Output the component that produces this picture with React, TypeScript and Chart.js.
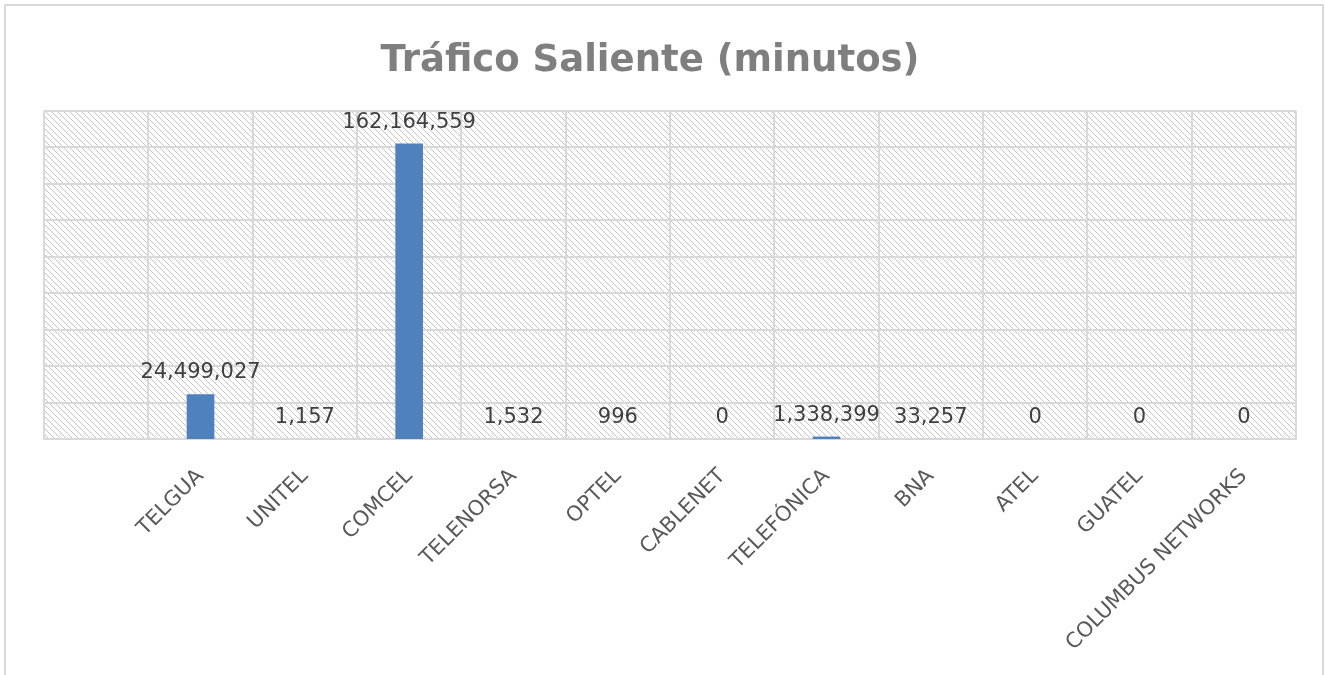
import React, { useEffect, useRef } from "react";
import { Chart, registerables } from "chart.js";

Chart.register(...registerables);

const TITLE = "Tráfico Saliente (minutos)";
const categories: string[] = [
  "",
  "TELGUA",
  "UNITEL",
  "COMCEL",
  "TELENORSA",
  "OPTEL",
  "CABLENET",
  "TELEFÓNICA",
  "BNA",
  "ATEL",
  "GUATEL",
  "COLUMBUS NETWORKS",
];
const traffic: (number | null)[] = [
  null,
  24499027,
  1157,
  162164559,
  1532,
  996,
  0,
  1338399,
  33257,
  0,
  0,
  0,
];
const yMin = 0;
const yMax = 180000000;
const yStep = 20000000;

const FONT = "'DejaVu Sans', sans-serif";
const GRID = "#d9d9d9";

function makePattern(): CanvasPattern | string {
  const c = document.createElement("canvas");
  c.width = 6;
  c.height = 6;
  const x = c.getContext("2d");
  if (!x) return "#ffffff";
  x.fillStyle = "#ffffff";
  x.fillRect(0, 0, 6, 6);
  x.fillStyle = "#c4c4c4";
  for (let i = 0; i < 6; i++) x.fillRect(i, i, 1, 1);
  const p = x.createPattern(c, "repeat");
  return p || "#ffffff";
}

export default function App() {
  const ref = useRef<HTMLCanvasElement | null>(null);

  useEffect(() => {
    document.body.style.margin = "0";
    const canvas = ref.current;
    if (!canvas) return;
    const pattern = makePattern();

    const decor = {
      id: "decor",
      beforeDraw(chart: any) {
        const { ctx, chartArea } = chart;
        ctx.save();
        ctx.fillStyle = "#ffffff";
        ctx.fillRect(0, 0, chart.width, chart.height);
        ctx.strokeStyle = GRID;
        ctx.lineWidth = 2;
        ctx.strokeRect(5, 5, 1318, 690);
        ctx.fillStyle = pattern as any;
        ctx.fillRect(
          chartArea.left,
          chartArea.top,
          chartArea.right - chartArea.left,
          chartArea.bottom - chartArea.top
        );
        ctx.font = `bold 37px ${FONT}`;
        ctx.fillStyle = "#7f7f7f";
        ctx.textAlign = "center";
        ctx.textBaseline = "alphabetic";
        ctx.fillText(TITLE, 650, 71);
        ctx.restore();
      },
      afterDatasetsDraw(chart: any) {
        const { ctx } = chart;
        const meta = chart.getDatasetMeta(0);
        ctx.save();
        ctx.font = `21px ${FONT}`;
        ctx.fillStyle = "#404040";
        ctx.textAlign = "center";
        ctx.textBaseline = "alphabetic";
        meta.data.forEach((bar: any, i: number) => {
          const v = traffic[i];
          if (v === null || v === undefined) return;
          ctx.fillText(v.toLocaleString("en-US"), bar.x, bar.y - 16);
        });
        ctx.restore();
      },
    };

    const chart = new Chart(canvas, {
      type: "bar",
      data: {
        labels: categories,
        datasets: [
          {
            data: traffic as any,
            backgroundColor: "#4f81bd",
            borderWidth: 0,
            inflateAmount: 0,
            categoryPercentage: 1,
            barPercentage: 0.265,
          } as any,
        ],
      },
      options: {
        animation: false,
        responsive: false,
        maintainAspectRatio: false,
        layout: { padding: { left: 44, right: 29, top: 111, bottom: 0 } },
        plugins: {
          legend: { display: false },
          title: { display: false },
          tooltip: { enabled: false },
        },
        scales: {
          x: {
            z: 1,
            grid: {
              color: GRID,
              lineWidth: 2,
              drawTicks: false,
              offset: true,
            },
            border: { color: GRID, width: 2 },
            ticks: {
              autoSkip: false,
              minRotation: 45,
              maxRotation: 45,
              padding: 25,
              color: "#595959",
              font: { family: FONT, size: 21 },
            },
            afterFit: (s: any) => {
              s.height = 675 - 439;
            },
          },
          y: {
            min: yMin,
            max: yMax,
            grid: {
              color: GRID,
              lineWidth: (c: any) => (c.tick && c.tick.value === 0 ? 0 : 2),
              drawTicks: false,
            },
            border: { display: false },
            ticks: { display: false, stepSize: yStep },
            afterFit: (s: any) => {
              s.width = 0;
            },
          },
        },
      },
      plugins: [decor],
    });

    return () => chart.destroy();
  }, []);

  return (
    <canvas
      ref={ref}
      width={1325}
      height={675}
      style={{ position: "fixed", left: 0, top: 0, width: 1325, height: 675 }}
    />
  );
}
